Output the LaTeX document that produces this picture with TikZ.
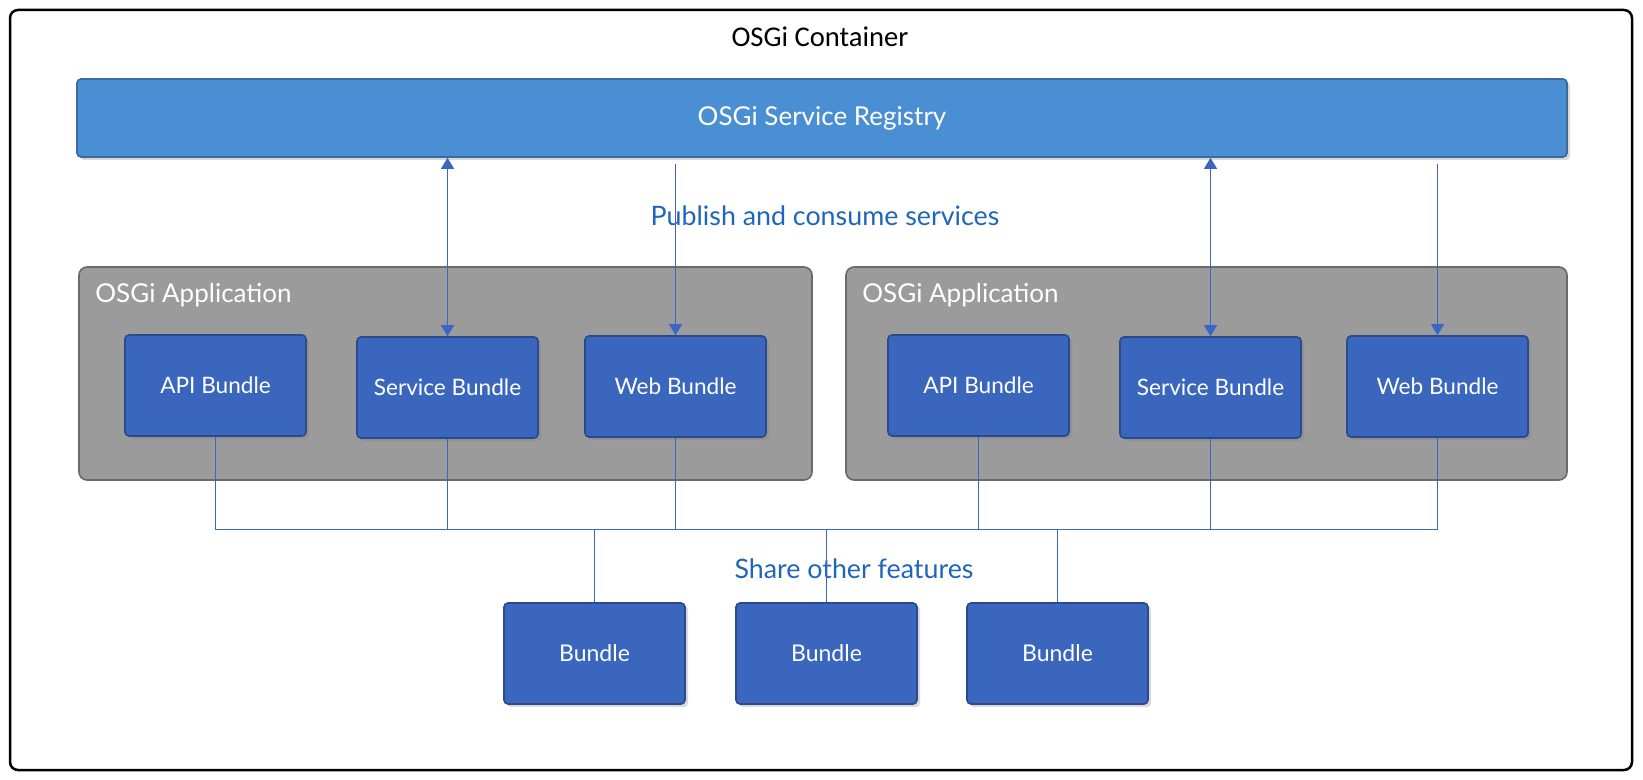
\documentclass[tikz,border=0pt]{standalone}
\usepackage{fontspec}
\setmainfont{Lato}
\newfontfamily\titlefont{Carlito}
\usepackage{xcolor}
\usetikzlibrary{shadows,arrows.meta}

\definecolor{registryblue}{HTML}{4A8FD3}
\definecolor{registryedge}{HTML}{3B6A9C}
\definecolor{bundleblue}{HTML}{3A66BE}
\definecolor{bundleedge}{HTML}{294A8C}
\definecolor{appgray}{HTML}{9B9B9B}
\definecolor{appedge}{HTML}{6A6A6A}
\definecolor{linkblue}{HTML}{3B66C4}
\definecolor{labelblue}{HTML}{1F66BB}

\begin{document}
\begin{tikzpicture}
    [x=0.5pt,y=-0.5pt,
    container/.style={draw=black,line width=1.25pt,rounded corners=4pt},
    registry/.style={draw=registryedge,fill=registryblue,line width=0.8pt,rounded corners=2pt,
        drop shadow={shadow xshift=1.5pt,shadow yshift=-1.5pt,opacity=0.3},
        minimum width=745pt,minimum height=39pt,text=white,font=\fontsize{13}{15}\selectfont},
    application/.style={draw=appedge,fill=appgray,line width=0.8pt,rounded corners=4pt,
        minimum height=106.5pt},
    applabel/.style={anchor=west,inner sep=0pt,text=white,font=\fontsize{13}{15}\selectfont},
    bundle/.style={draw=bundleedge,fill=bundleblue,line width=0.8pt,rounded corners=2pt,
        drop shadow={shadow xshift=1.5pt,shadow yshift=-1.5pt,opacity=0.3},
        minimum width=90.5pt,minimum height=50.5pt,text=white,font=\fontsize{11.3}{13}\selectfont},
    link/.style={linkblue,line width=0.55pt},
    oneway/.style={-{Triangle[width=6.5pt,length=5.5pt]}},
    twoway/.style={{Triangle[width=6.5pt,length=5.5pt]}-{Triangle[width=6.5pt,length=5.5pt]}},
    label/.style={text=labelblue,font=\fontsize{13.4}{15}\selectfont}]

\useasboundingbox (0,0) rectangle (1643,780);

%outer container
\draw[container] (10,10) rectangle (1632,770);
\node[font=\titlefont\fontsize{14.3}{16}\selectfont] (title) at (820,37) {OSGi Container};

%service registry
\node[registry] (registry) at (822,118) {OSGi Service Registry};

%applications
\node[application,minimum width=366.5pt] (app1) at (445.5,373.5) {};
\node[application,minimum width=360.5pt] (app2) at (1206.5,373.5) {};
\node[applabel] (app1label) at (95,295) {OSGi Application};
\node[applabel] (app2label) at (862,295) {OSGi Application};

%bundles inside the applications
\node[bundle] (api1) at (215.5,385.5) {API Bundle};
\node[bundle] (svc1) at (447.5,387.5) {Service Bundle};
\node[bundle] (web1) at (675.5,386.5) {Web Bundle};
\node[bundle] (api2) at (978.5,385.5) {API Bundle};
\node[bundle] (svc2) at (1210.5,387.5) {Service Bundle};
\node[bundle] (web2) at (1437.5,386.5) {Web Bundle};

%shared bundles
\node[bundle,font=\fontsize{11.5}{14}\selectfont] (shared1) at (594.5,653.5) {Bundle};
\node[bundle,font=\fontsize{11.5}{14}\selectfont] (shared2) at (826.5,653.5) {Bundle};
\node[bundle,font=\fontsize{11.5}{14}\selectfont] (shared3) at (1057.5,653.5) {Bundle};

%labels
\node[label] (publish) at (825,216) {Publish and consume services};
\node[label] (share) at (854,569) {Share other features};

%publish and consume
\draw[link,twoway] (registry.south -| svc1.north) -- (svc1.north);
\draw[link,twoway] (registry.south -| svc2.north) -- (svc2.north);
\draw[link,oneway] ([yshift=-3pt]registry.south -| web1.north) -- (web1.north);
\draw[link,oneway] ([yshift=-3pt]registry.south -| web2.north) -- (web2.north);

%shared bus
\coordinate (bus) at (0,529.5);
\draw[link] (api1.south) -- (api1.south |- bus) -- (web2.south |- bus) -- (web2.south);
\foreach \b in {svc1,web1,api2,svc2}
    \draw[link] (\b.south) -- (\b.south |- bus);
\foreach \b in {shared1,shared2,shared3}
    \draw[link] (\b.north |- bus) -- (\b.north);

\end{tikzpicture}
\end{document}
